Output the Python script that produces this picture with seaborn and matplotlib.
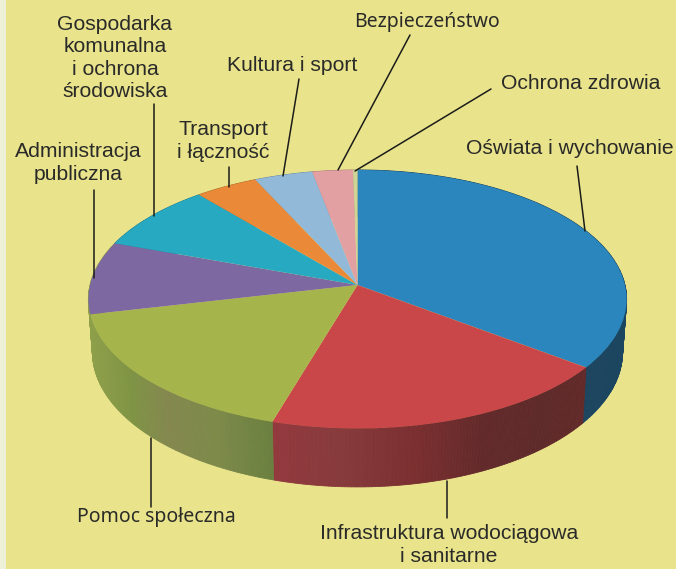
import numpy as np
import seaborn as sns
from matplotlib import pyplot as plt
from matplotlib.colors import to_rgb
from matplotlib.transforms import Transform

# budget shares, clockwise from 12 o'clock (percent)
categories = [
    "Oświata i wychowanie",
    "Infrastruktura wodociągowa\ni sanitarne",
    "Pomoc społeczna",
    "Administracja\npubliczna",
    "Gospodarka\nkomunalna\ni ochrona\nśrodowiska",
    "Transport\ni łączność",
    "Kultura i sport",
    "Bezpieczeństwo",
    "Ochrona zdrowia",
]
shares = [35.3, 19.3, 16.8, 9.1, 8.4, 4.2, 3.9, 2.7, 0.3]
top_colors = ["#2a86bc", "#c94749", "#a6b44c", "#7e68a1", "#27a9c1",
              "#ea8a38", "#93b9d9", "#e2a0a2", "#d0d596"]

# colours along the side wall of each slice, same order as the slices
wall_colors = [
    ["#1c4560", "#1c4560"],
    ["#622a2a", "#5f2a2a", "#622a2b", "#7b2f30", "#863a3c", "#93393e"],
    ["#6a8040", "#7d8a4a", "#84884f", "#7f9445", "#8a9c48", "#8e9f4a"],
    ["#8e9f4a", "#8e9f4a"],
    ["#1d7f91", "#1d7f91"],
    ["#b06a2b", "#b06a2b"],
    ["#6f8ba3", "#6f8ba3"],
    ["#a97a7b", "#a97a7b"],
    ["#9ca072", "#9ca072"],
]

BG = "#e9e48c"
STRIP = "#eef0d8"
INK = "#2a2a28"


class TiltTransform(Transform):
    """Unit circle to picture pixels, with a bit of perspective."""

    input_dims = 2
    output_dims = 2

    def __init__(self, drop=0.0, shrink=1.0):
        super().__init__()
        self.drop = drop
        self.shrink = shrink

    def transform_non_affine(self, values):
        values = np.asarray(values, dtype=float)
        w = 1 + 0.11 * values[:, 1]
        x = 357.5 + 267.5 * self.shrink * values[:, 0] / w
        y = 285 - 127.7 * values[:, 1] / w + self.drop / w
        return np.column_stack([x, y])


sns.set_theme(style="white")
plt.rcParams["font.family"] = ["Liberation Sans", "DejaVu Sans"]

fig = plt.figure(figsize=(6.76, 5.69), dpi=100, facecolor=STRIP)
ax = fig.add_axes([0, 0, 1, 1])
palette = sns.color_palette(top_colors)

# side wall first, the top face covers whatever is behind it
edges = np.r_[0, np.cumsum(shares)] / sum(shares) * 2 * np.pi
top_rim = TiltTransform()
low_rim = TiltTransform(drop=52, shrink=0.985)
for i, stops in enumerate(wall_colors):
    steps = np.linspace(edges[i], edges[i + 1], max(int((edges[i + 1] - edges[i]) * 90), 2))
    stops_rgb = np.array([to_rgb(c) for c in stops])
    pos = np.linspace(0, 1, len(stops))
    for a, b in zip(steps[:-1], steps[1:]):
        pair = np.array([[np.sin(a), np.cos(a)], [np.sin(b), np.cos(b)]])
        up = top_rim.transform(pair)
        low = low_rim.transform(pair)[::-1]
        t = ((a + b) / 2 - edges[i]) / (edges[i + 1] - edges[i])
        col = [np.interp(t, pos, stops_rgb[:, c]) for c in range(3)]
        poly = np.vstack([up, low])
        ax.fill(poly[:, 0], poly[:, 1], color=col, lw=0.6, zorder=2)

wedges, _ = ax.pie(shares, colors=palette, startangle=90, counterclock=False,
                   wedgeprops={"linewidth": 0})
for wedge in wedges:
    wedge.set_transform(top_rim + ax.transData)
    wedge.set_zorder(3)

ax.set_aspect("auto")
ax.set_xlim(0, 676)
ax.set_ylim(569, 0)
ax.set_frame_on(False)
ax.axvspan(6, 676, color=BG, lw=0, zorder=0)

# labels: text centre and leader line, in picture pixels
label_xy = [(570, 148), (449, 545), (156, 517), (78, 163), (115, 58),
            (223, 141), (292, 65), (427, 22), (581, 83)]
leaders = [
    [(577, 166), (585, 231)],
    [(447, 481), (447, 518)],
    [(151, 438), (151, 507)],
    [(94, 190), (94, 278)],
    [(153.5, 104), (153.5, 216)],
    [(229, 167), (229, 187)],
    [(299, 79), (283, 176)],
    [(410, 35), (338, 170)],
    [(491, 89), (355, 171)],
]
other_font = {"Pomoc społeczna", "Bezpieczeństwo"}
for name, xy, line in zip(categories, label_xy, leaders):
    fam = ["Noto Sans", "DejaVu Sans"] if name in other_font else ["Liberation Sans", "DejaVu Sans"]
    size = 14 if name in other_font else 15.2
    ax.text(xy[0], xy[1], name, ha="center", va="center", color=INK,
            fontsize=size, family=fam, linespacing=1.22, zorder=5)
    ax.plot([line[0][0], line[1][0]], [line[0][1], line[1][1]],
            color="#1c1c1a", lw=1.1, zorder=4)

fig.savefig("out.png", dpi=100, facecolor=STRIP)
